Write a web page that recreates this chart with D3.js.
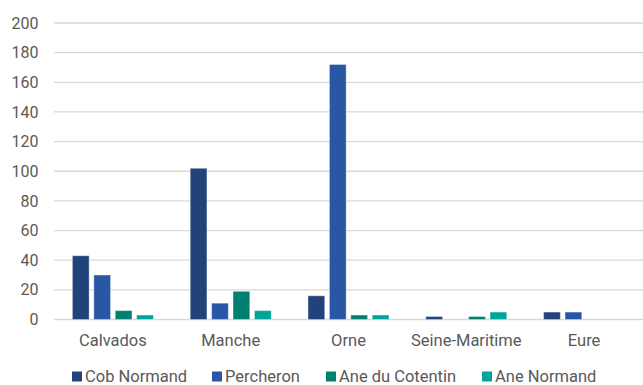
<!DOCTYPE html>
<html><head><meta charset="utf-8">
<script src="https://cdn.jsdelivr.net/npm/d3@7"></script>
<style>html,body{margin:0;padding:0;background:#fff;}svg{display:block;}</style>
</head><body>
<script>
const categories = ["Calvados", "Manche", "Orne", "Seine-Maritime", "Eure"];
const seriesNames = ["Cob Normand", "Percheron", "Ane du Cotentin", "Ane Normand"];
const cobNormand = [43, 102, 16, 2, 5];
const percheron = [30, 11, 172, 0, 5];
const aneCotentin = [6, 19, 3, 2, 0];
const aneNormand = [3, 6, 3, 5, 0];
const yTicks = [0, 20, 40, 60, 80, 100, 120, 140, 160, 180, 200];
const colors = ["#22437a", "#2a57a5", "#01806f", "#00a59a"];

const seriesValues = [cobNormand, percheron, aneCotentin, aneNormand];
const W = 643, H = 385;
const m = {left: 54, right: 0, top: 23, bottom: 65.5};

const svg = d3.select("body").append("svg").attr("width", W).attr("height", H);
const y = d3.scaleLinear().domain([0, 200]).range([H - m.bottom, m.top]);
const x0 = d3.scaleBand().domain(categories).range([m.left, W - m.right]).padding(0);
const x1 = d3.scaleBand().domain(seriesNames).range([0, x0.bandwidth()]).paddingInner(0.22).paddingOuter(0.86);

// gridlines
svg.append("g").selectAll("line").data(yTicks).join("line")
  .attr("x1", m.left).attr("x2", W - m.right)
  .attr("y1", d => y(d)).attr("y2", d => y(d))
  .attr("stroke", "#d9d9d9").attr("stroke-width", 1.3);

// y labels
svg.append("g").selectAll("text").data(yTicks).join("text")
  .attr("x", 38.5).attr("y", d => y(d)).attr("dy", "0.35em")
  .attr("text-anchor", "end")
  .attr("font-family", "Roboto, sans-serif").attr("font-size", 16)
  .attr("fill", "#595959").text(d => d);

// bars
const groups = svg.append("g").selectAll("g").data(categories).join("g")
  .attr("transform", c => `translate(${x0(c)},0)`);
groups.selectAll("rect").data((c, ci) => seriesNames.map((s, si) => ({s, si, v: seriesValues[si][ci]})))
  .join("rect")
  .attr("x", d => x1(d.s)).attr("width", x1.bandwidth())
  .attr("y", d => y(d.v)).attr("height", d => y(0) - y(d.v))
  .attr("fill", d => colors[d.si])
  .attr("stroke", "#ffffff").attr("stroke-opacity", 0.35).attr("stroke-width", 1);

// x labels
svg.append("g").selectAll("text").data(categories).join("text")
  .attr("x", c => x0(c) + x0.bandwidth() / 2).attr("y", 340)
  .attr("dy", "0.35em").attr("text-anchor", "middle")
  .attr("font-family", "Roboto, sans-serif").attr("font-size", 16.5)
  .attr("fill", "#595959").text(c => c);

// legend
const legendX = [72, 212, 326, 482];
const leg = svg.append("g").selectAll("g").data(seriesNames).join("g")
  .attr("transform", (s, i) => `translate(${legendX[i]},376.5)`);
leg.append("rect").attr("x", 0).attr("y", -5).attr("width", 10).attr("height", 10)
  .attr("fill", (s, i) => colors[i]);
leg.append("text").attr("x", 13).attr("y", 0).attr("dy", "0.35em")
  .attr("font-family", "Roboto, sans-serif").attr("font-size", 16.5)
  .attr("fill", "#595959").text(s => s);
</script>
</body></html>
